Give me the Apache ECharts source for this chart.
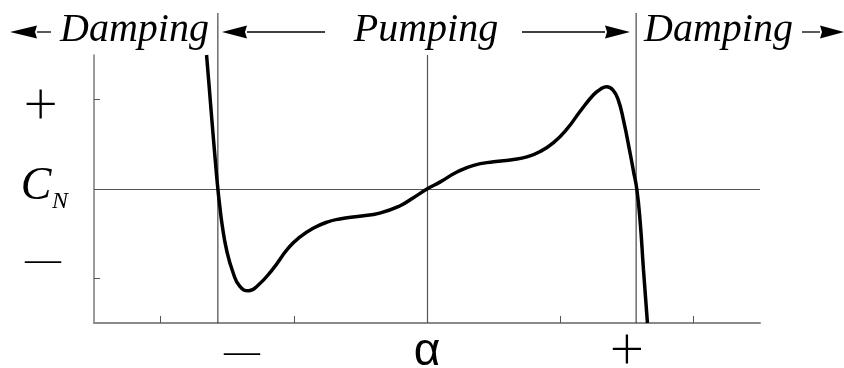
<!DOCTYPE html>
<html>
<head>
<meta charset="utf-8">
<script src="https://cdn.jsdelivr.net/npm/echarts@6/dist/echarts.min.js"></script>
<style>
  html, body { margin: 0; padding: 0; background: #fff; }
  #chart { width: 844px; height: 368px; }
</style>
</head>
<body>
<div id="chart"></div>
<script>
// Normal-force coefficient C_N against angle of attack alpha
const alphaValues = [-3.31, -3.27, -3.23, -3.18, -3.14, -3.11, -3.08, -3.01, -2.91, -2.81,
                     -2.68, -2.54, -2.33, -2.08, -1.91, -1.71, -1.50, -1.31, -1.01, -0.71,
                     -0.41, -0.21,  0.00,  0.20,  0.45,  0.70,  1.00,  1.30,  1.50,  1.70,
                      1.90,  2.10,  2.30,  2.50,  2.60,  2.70,  2.79,  2.87,  2.95,  3.05,
                      3.10,  3.15,  3.20,  3.25,  3.31];
const cnValues    = [ 1.50,  1.14,  0.77,  0.33,  0.00, -0.20, -0.38, -0.68, -0.94, -1.09,
                     -1.14, -1.08, -0.91, -0.66, -0.54, -0.44, -0.37, -0.335, -0.305, -0.27,
                     -0.19, -0.10,  0.00,  0.08,  0.19,  0.265, 0.305, 0.33,  0.36,  0.42,
                      0.52,  0.67,  0.87,  1.055, 1.115, 1.145, 1.11,  1.00,  0.77,  0.40,
                      0.20,  0.00, -0.36, -0.90, -1.50];

// Axis ranges and tick positions
const alphaRange = [-5, 5];
const cnRange = [-1.5, 1.5];
const alphaTicks = [-4, -2, 2, 4];
const cnTicks = [-1, 0, 1];
// Boundaries between damping and pumping regions
const boundaryAlphas = [-3.14, 3.14];

// Text
const regionLabels = ['Damping', 'Pumping', 'Damping'];
const alphaSignLabels = ['—', 'α', '+'];
const cnSignLabels = ['+', '—'];
const cnName = ['C', 'N'];

const chart = echarts.init(document.getElementById('chart'), null, { renderer: 'canvas' });

const serif = '"Liberation Serif", "DejaVu Serif", serif';

const option = {
  animation: false,
  backgroundColor: '#fff',
  grid: { left: 94, right: 84, top: 55, bottom: 45 },
  xAxis: {
    type: 'value',
    min: alphaRange[0], max: alphaRange[1],
    axisLine: { show: true, onZero: false, lineStyle: { color: '#8a8a8a', width: 2 } },
    axisTick: { show: true, inside: true, length: 7, customValues: alphaTicks, lineStyle: { color: '#555', width: 1 } },
    axisLabel: { show: false },
    splitLine: { show: false }
  },
  yAxis: {
    type: 'value',
    min: cnRange[0], max: cnRange[1],
    axisLine: { show: true, onZero: false, lineStyle: { color: '#7a7a7a', width: 1.5 } },
    axisTick: { show: true, inside: true, length: 6, customValues: cnTicks, lineStyle: { color: '#555', width: 1 } },
    axisLabel: { show: false },
    splitLine: { show: false }
  },
  series: [{
    type: 'line',
    data: alphaValues.map((a, i) => [a, cnValues[i]]),
    smooth: 0.5,
    showSymbol: false,
    symbol: 'none',
    lineStyle: { color: '#000', width: 3.5 },
    z: 5,
    markLine: {
      silent: true,
      symbol: 'none',
      label: { show: false },
      lineStyle: { color: '#555', width: 1.2, type: 'solid' },
      data: [{ xAxis: 0 }, { yAxis: 0 }],
      z: 2
    }
  }]
};
chart.setOption(option);

// Boundary lines run from the header down to the alpha axis
const headerTop = 13;
const graphics = [];
boundaryAlphas.forEach(a => {
  const p = chart.convertToPixel({ gridIndex: 0 }, [a, cnRange[0]]);
  graphics.push({
    type: 'line', silent: true, z: 3,
    shape: { x1: p[0], y1: headerTop, x2: p[0], y2: p[1] },
    style: { stroke: '#222', lineWidth: 1 }
  });
});

// Header arrows
function arrow(tipX, baseX, tailX, y) {
  graphics.push({
    type: 'line', silent: true,
    shape: { x1: baseX, y1: y, x2: tailX, y2: y },
    style: { stroke: '#000', lineWidth: 1.3 }
  });
  graphics.push({
    type: 'polygon', silent: true,
    shape: { points: [[tipX, y], [baseX, y - 6.5], [baseX + (tipX < baseX ? -2 : 2), y], [baseX, y + 6.5]] },
    style: { fill: '#000' }
  });
}
const arrowY = 32;
arrow(10, 37, 51, arrowY);
arrow(222, 247, 325, arrowY);
arrow(630, 605, 522, arrowY);
arrow(844, 820, 802, arrowY);

function txt(str, x, y, size, opts) {
  graphics.push({
    type: 'text', silent: true, z: 10,
    x: x, y: y,
    style: Object.assign({
      text: str, fill: '#000',
      font: (opts && opts.font) || ('italic ' + size + 'px ' + serif),
      align: 'center', verticalAlign: 'middle'
    }, opts && opts.style)
  });
}
txt(regionLabels[0], 134.5, 30, 40);
txt(regionLabels[1], 426, 30, 40);
txt(regionLabels[2], 718.5, 30, 40);

// C_N label
txt(cnName[0], 36, 187, 46);
txt(cnName[1], 60, 202, 24);

// Sign labels
const signFont = (s) => 'normal 300 ' + s + 'px Lato, "Liberation Serif", serif';
txt(cnSignLabels[0], 40.7, 105, 60, { font: signFont(60) });
txt(cnSignLabels[1], 43, 262, 36, { font: '36px ' + serif });
txt(alphaSignLabels[0], 242, 354, 36, { font: '36px ' + serif });
txt(alphaSignLabels[1], 427, 352, 46, { font: '46px "Liberation Sans", "DejaVu Sans", sans-serif' });
txt(alphaSignLabels[2], 627, 350, 60, { font: signFont(60) });

chart.setOption({ graphic: graphics });
</script>
</body>
</html>
